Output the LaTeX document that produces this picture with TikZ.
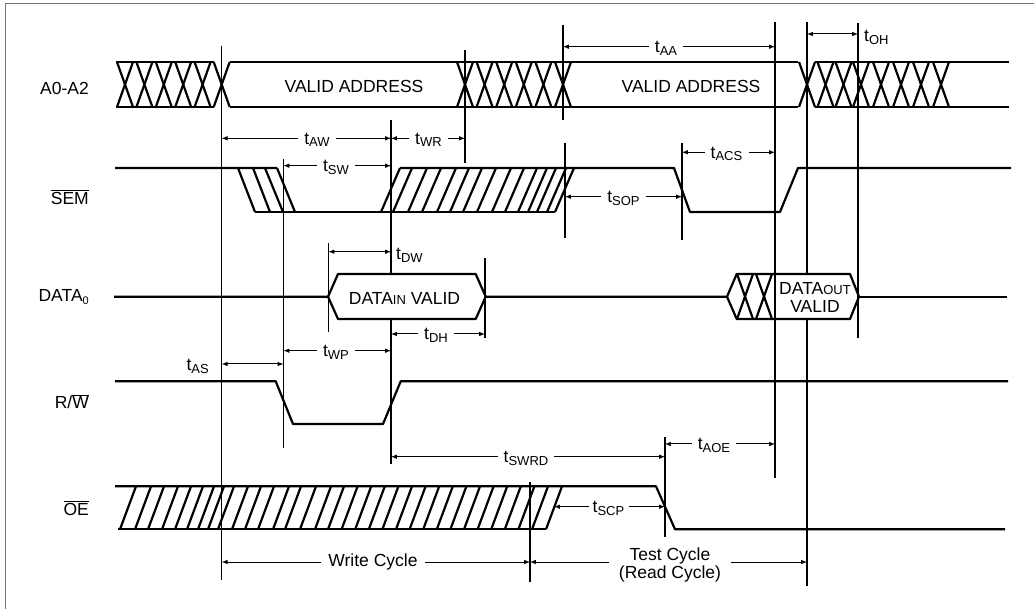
\documentclass[tikz,border=0pt]{standalone}
\usepackage{xcolor}
\usepackage{fontspec}
\setmainfont{Liberation Sans}
\usetikzlibrary{arrows,positioning}
\newcommand{\timelab}[1]{t\raisebox{-2.5pt}{\fontsize{13}{13}\selectfont #1}}
\newcommand{\barsig}[1]{$\overline{\mbox{#1}}$}
\newcommand{\lowsig}[1]{{\fontsize{13}{13}\selectfont #1}}
\tikzset{
    every node/.style={font=\fontsize{17.5}{18}\selectfont},
    wave/.style={line width=2.2pt, line join=round},
    guide/.style={line width=1.1pt},
    dim/.style={->, >=latex, line width=1pt},
    dimboth/.style={<->, >=latex, line width=1pt},
    lab/.style={inner ysep=0pt, inner xsep=6pt, text height=12pt, text depth=0pt},
    sig/.style={anchor=east, inner sep=0pt},
    edge/.style={line width=1pt, black!55}
}

\begin{document}
\begin{tikzpicture}[x=1pt,y=-1pt]
    \useasboundingbox (0,0) rectangle (1034,609);
    \draw[edge] (5,609) -- (5,4) -- (1034,4);

    \foreach \name/\x/\ya/\yb in {gA/221.7/46/580, gB/283.5/159/448, gC/391/120/274, gCl/391/319/464,
        gD/465/50/163, gE/563/25/120, gF/565/143/238, gG/682/143/240, gH/775/22/478,
        gJ/807/22/274, gJl/807/319/586, gK/858/23/338, gL/328.5/243/332, gM/485/258/338,
        gN/530/482/582, gP/665/437/537} {
        \coordinate (\name) at (\x,\ya);
        \coordinate (\name e) at (\x,\yb);
        \draw[guide] (\name) -- (\name e);
    }

    \node[sig] (addr) at (89,88) {A0-A2};
    \node[sig] (sem) at (89,197) {\barsig{SEM}};
    \node[sig] (data) at (89,297) {DATA\raisebox{-3pt}{\fontsize{11}{11}\selectfont 0}};
    \node[sig] (rw) at (89,402) {R/\barsig{W}};
    \node[sig] (oe) at (89,508) {\barsig{OE}};

    \draw[wave] (116,62) -- (214,62) (230,62) -- (798,62) (815,62) -- (1009,62);
    \draw[wave] (116,107) -- (214,107) (230,107) -- (798,107) (815,107) -- (1009,107);
    \foreach \c in {125,144.4,163.8,183.2,202.6,221.7,465,484.6,504.2,523.8,543.4,563,807,825.5,843.5,861,881,901,921,941} {
        \draw[wave] (\c-8,62) -- (\c+8,107);
        \draw[wave] (\c+8,62) -- (\c-8,107);
    }
    \node (valid1) at (354,86) {VALID ADDRESS};
    \node (valid2) at (691,86) {VALID ADDRESS};

    \draw[wave] (115,168) -- (277,168) (400,168) -- (674,168) -- (690,212) -- (780,212) -- (798,168) -- (1011,168);
    \draw[wave] (255,212) -- (555,212);
    \foreach \a/\b in {238/255,253/270,265/283,277/295} {
        \draw[wave] (\a,168) -- (\b,212);
    }
    \foreach \x in {381,393,408,422,437,450,463,477,492,505,518,528,537,547,555} {
        \draw[wave] (\x,212) -- (\x+19,168);
    }

    \draw[wave] (114,296.7) -- (328,296.7) -- (338,274) -- (475.7,274) -- (485.7,296.7) -- (475.7,319) -- (338,319) -- (328,296.7);
    \draw[wave] (485.7,296.7) -- (727,296.7) -- (736.7,274) -- (850,274) -- (859,296.7) -- (850,319) -- (736.7,319) -- (727,296.7);
    \draw[wave] (859,296.7) -- (1007,296.7);
    \foreach \c in {745,764} {
        \draw[wave] (\c-8,274) -- (\c+8,319);
        \draw[wave] (\c+8,274) -- (\c-8,319);
    }
    \draw[wave] (775,274) -- (775,319);
    \node (datain) at (404.5,298) {DATA\lowsig{IN} VALID};
    \node[align=center, inner sep=0pt] (dataout) at (815,297) {DATA\lowsig{OUT}\\VALID};

    \draw[wave] (115,381.3) -- (275.7,381.3) -- (293,424) -- (383,424) -- (400.7,381.3) -- (1008,381.3);

    \draw[wave] (115,486.3) -- (656,486.3) -- (675,529.3) -- (1005,529.3);
    \draw[wave] (118,529.3) -- (546,529.3);
    \foreach \x in {120,135,148,162,175,187,198,208,218,232,245,258,273,285,300,315,328,341.6,355.2,368.8,382.4,396,409.6,423.2,436.8,450.4,464,477.6,491.2,504.8,518.4,532,546} {
        \draw[wave] (\x,529.3) -- (\x+16,486.3);
    }

    \node[lab] (taw) at (317,138.3) {\timelab{AW}};
    \draw[dim] (taw) -- (gA |- taw);
    \draw[dim] (taw) -- (gC |- taw);
    \node[lab] (twr) at (428.5,138.3) {\timelab{WR}};
    \draw[dim] (twr) -- (gC |- twr);
    \draw[dim] (twr) -- (gD |- twr);
    \node[lab] (tsw) at (336,165.7) {\timelab{SW}};
    \draw[dim] (tsw) -- (gB |- tsw);
    \draw[dim] (tsw) -- (gC |- tsw);
    \node[lab] (taa) at (666,46.7) {\timelab{AA}};
    \draw[dim] (taa) -- (gE |- taa);
    \draw[dim] (taa) -- (gH |- taa);
    \node[lab, inner xsep=0pt, anchor=west] (toh) at (864,36) {\timelab{OH}};
    \coordinate (yoh) at (807,34);
    \draw[dimboth] (gJ |- yoh) -- (gK |- yoh);
    \node[lab] (tacs) at (726.5,152.3) {\timelab{ACS}};
    \draw[dim] (tacs) -- (gG |- tacs);
    \draw[dim] (tacs) -- (gH |- tacs);
    \node[lab] (tsop) at (623.5,196.7) {\timelab{SOP}};
    \draw[dim] (tsop) -- (gF |- tsop);
    \draw[dim] (tsop) -- (gG |- tsop);
    \node[lab, inner xsep=0pt, anchor=west] (tdw) at (396,254) {\timelab{DW}};
    \coordinate (ydw) at (391,251.7);
    \draw[dimboth] (gL |- ydw) -- (gC |- ydw);
    \node[lab] (tdh) at (436,334) {\timelab{DH}};
    \draw[dim] (tdh) -- (gCl |- tdh);
    \draw[dim] (tdh) -- (gM |- tdh);
    \node[lab] (twp) at (336,350.7) {\timelab{WP}};
    \draw[dim] (twp) -- (gB |- twp);
    \draw[dim] (twp) -- (gC |- twp);
    \node[lab, inner xsep=0pt, anchor=east] (tas) at (209,365) {\timelab{AS}};
    \coordinate (yas) at (222,364);
    \draw[dimboth] (gA |- yas) -- (gB |- yas);
    \node[lab] (tswrd) at (526,456.7) {\timelab{SWRD}\hspace{14pt}};
    \draw[dim] (tswrd) -- (gCl |- tswrd);
    \draw[dim] (tswrd) -- (gP |- tswrd);
    \node[lab] (taoe) at (714,444) {\timelab{AOE}};
    \draw[dim] (taoe) -- (gP |- taoe);
    \draw[dim] (taoe) -- (gH |- taoe);
    \node[lab, inner xsep=4pt] (tscp) at (608.5,506.7) {\timelab{SCP}\hspace{9pt}};
    \coordinate (oeedge) at (554,506.7);
    \draw[dim] (tscp) -- (oeedge);
    \draw[dim] (tscp) -- (gP |- tscp);

    \node[inner xsep=7pt, inner ysep=0pt] (write) at (373,562) {Write Cycle};
    \draw[dim] (write) -- (gA |- write);
    \draw[dim] (write) -- (gN |- write);
    \node[align=center, inner xsep=10pt, inner ysep=0pt] (test) at (670,565) {Test Cycle\\(Read Cycle)};
    \draw[dim] (test.west |- write) -- (gN |- write);
    \draw[dim] (test.east |- write) -- (gJl |- write);
\end{tikzpicture}
\end{document}
